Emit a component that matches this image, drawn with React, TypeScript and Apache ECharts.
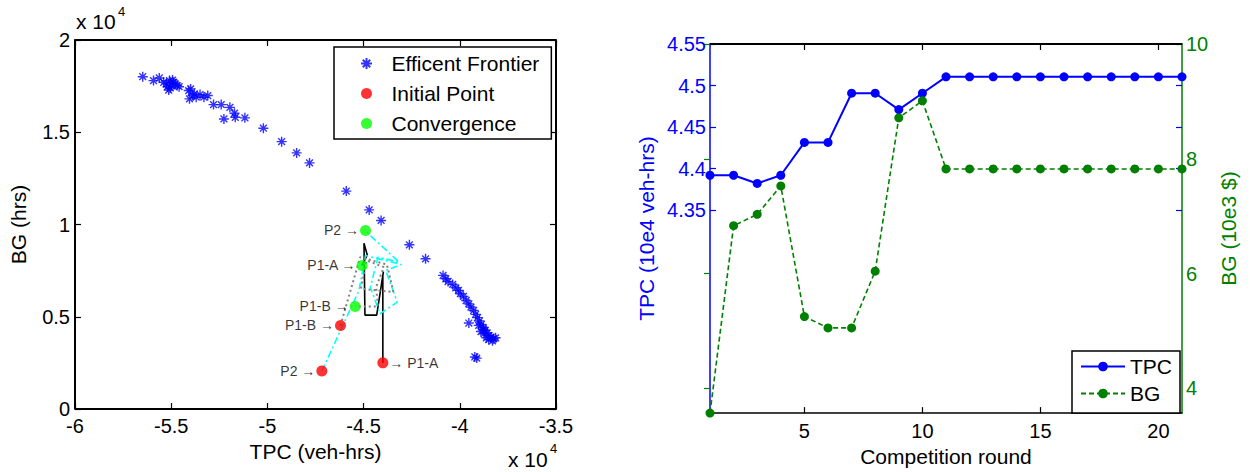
import React, { useEffect, useRef } from "react";
import * as echarts from "echarts";

const FONT = "Liberation Sans, Arial, Helvetica, sans-serif";
const BLUE = "#0000ff";
const GREEN = "#008000";

// Efficient frontier solutions: [TPC (veh-hrs), BG (hrs)]
const frontier: [number, number][] = [
  [-56480, 18010], [-55920, 17800], [-55620, 17940], [-55390, 17710], [-55250, 17620],
  [-55090, 17800], [-54990, 17530], [-54890, 17710], [-54790, 17620], [-54690, 17530],
  [-55130, 17290], [-55050, 17400], [-54930, 17830], [-55190, 17470], [-54590, 17470],
  [-54090, 17260], [-54050, 16810], [-53890, 16990], [-53700, 16900], [-53500, 17040],
  [-53300, 16900], [-53100, 16990], [-53990, 17350], [-53800, 17080],
  [-52800, 16500], [-52400, 16500], [-52260, 15720], [-51950, 16350], [-51710, 16030],
  [-51670, 15810], [-51170, 15780],
  [-50210, 15220], [-49260, 14490], [-48480, 13880], [-47810, 13340], [-45900, 11810],
  [-44710, 10790], [-44090, 10220], [-42620, 8900], [-41780, 8140],
  [-40870, 7240], [-40730, 7060], [-40610, 6910], [-40370, 6750], [-40210, 6570],
  [-40070, 6430], [-39970, 6250], [-39810, 6100], [-39670, 5880], [-39530, 5700],
  [-39420, 5520], [-39280, 5340], [-39180, 5130], [-39080, 4950], [-38980, 4770],
  [-38880, 4580], [-38780, 4400], [-38680, 4260], [-38580, 4120], [-38480, 3990],
  [-38380, 3900], [-38240, 3810], [-38620, 3860], [-38740, 4080], [-38140, 3860],
  [-38760, 4300], [-39020, 4530], [-38300, 3700], [-38500, 3760], [-38900, 4200],
  [-39530, 4660], [-39120, 2760], [-39220, 2820],
];

// Player trajectories across the competition rounds
const pathP1A: [number, number][] = [
  [-44000, 2500], [-44000, 7260], [-43970, 7440], [-44320, 5090], [-44930, 5090],
  [-44980, 8980], [-44810, 8350], [-45080, 7780],
];
const pathP2: [number, number][] = [
  [-47170, 2060], [-45240, 6430], [-44900, 8320], [-43050, 7830], [-43850, 7510],
  [-43250, 5790], [-44150, 5160], [-44650, 6610], [-44250, 8230], [-43150, 7960],
  [-44650, 9400], [-44900, 9680],
];
const pathP1B: [number, number][] = [
  [-46200, 4530], [-45180, 8230], [-43790, 7830], [-43450, 6340], [-45140, 6520],
  [-44840, 8050], [-43950, 7690], [-44350, 6610], [-44250, 5560], [-45440, 5560],
];

const pointNames = ["P2", "P1-B", "P1-A"];
const initialPoints: [number, number][] = [[-47170, 2060], [-46200, 4530], [-44000, 2500]];
const convergencePoints: [number, number][] = [[-44900, 9680], [-45440, 5560], [-45080, 7780]];

// Per-round results
const rounds = ["1", "2", "3", "4", "5", "6", "7", "8", "9", "10", "11", "12", "13", "14", "15", "16", "17", "18", "19", "20", "21"];
const tpcByRound = [4.39, 4.39, 4.38, 4.39, 4.43, 4.43, 4.49, 4.49, 4.47, 4.49, 4.51, 4.51, 4.51, 4.51, 4.51, 4.51, 4.51, 4.51, 4.51, 4.51, 4.51];
const bgByRound = [3.5, 6.8, 7.0, 7.5, 5.2, 5.0, 5.0, 6.0, 8.7, 9.0, 7.8, 7.8, 7.8, 7.8, 7.8, 7.8, 7.8, 7.8, 7.8, 7.8, 7.8];

// Axis extents and tick labels
const tpcRange = [-60000, -35000];
const bgRange = [0, 20000];
const tpcRoundRange = [4.1, 4.55];
const bgRoundRange = [3.5, 10];
const tpcTickLabels = [4.35, 4.4, 4.45, 4.5, 4.55];
const bgTickLabels = [4, 6, 8, 10];

const ASTERISK = "path://M5 0L5 10M0 5L10 5M1.6 1.6L8.4 8.4M8.4 1.6L1.6 8.4";

// Plot boxes (pixels)
const LEFT_BOX = { left: 75, top: 40, width: 481, height: 369 };
const RIGHT_BOX = { left: 710, top: 44, width: 472, height: 373 };

const scaled = (v: number) => String(Math.round((v / 1e4) * 100) / 100);
const round2 = (v: number) => String(Math.round(v * 100) / 100);
const everyFifth = (i: number) => (i + 1) % 5 === 0;

function buildOption() {
  const tickFont = { fontFamily: FONT, fontSize: 20, color: "#000" };
  const nameFont = { fontFamily: FONT, fontSize: 21, color: "#000" };
  const blackLine = () => ({ show: true, onZero: false, lineStyle: { color: "#000", width: 1.5 } });
  const inTick = (color: string) => ({ show: true, inside: true, length: 6, lineStyle: { color, width: 1.2 } });

  const labelSide: Record<string, "left" | "right"> = { P2: "left", "P1-B": "left", "P1-A": "right" };
  const pointItems = (pts: [number, number][], initial: boolean) =>
    pts.map((p, i) => {
      const n = pointNames[i];
      const side = initial ? labelSide[n] : "left";
      return {
        value: p,
        name: n,
        label: {
          show: true,
          position: side,
          distance: 1,
          formatter: side === "left" ? `${n} \u2192` : `\u2192 ${n}`,
          fontFamily: FONT,
          fontSize: 14,
          color: "#000",
        },
      };
    });

  // Box outline of the left plot, traced through its own axis extents
  const [x0, x1] = tpcRange;
  const [y0, y1] = bgRange;
  const leftFrame = [[x0, y0], [x0, y1], [x1, y1], [x1, y0], [x0, y0]];
  // Top edge of the right plot
  const rightTop = [[rounds[0], tpcRoundRange[1]], [rounds[rounds.length - 1], tpcRoundRange[1]]];

  return {
    animation: false,
    textStyle: { fontFamily: FONT },
    grid: [
      { ...LEFT_BOX },
      { ...RIGHT_BOX },
      { left: RIGHT_BOX.left, top: RIGHT_BOX.top, width: RIGHT_BOX.width, height: 166 },
      { left: RIGHT_BOX.left, top: RIGHT_BOX.top, width: RIGHT_BOX.width, height: 344.3 },
    ],
    xAxis: [
      {
        gridIndex: 0, type: "value", min: tpcRange[0], max: tpcRange[1], interval: 5000, position: "bottom",
        axisLine: blackLine(), axisTick: inTick("#000"),
        axisLabel: { ...tickFont, margin: 7, formatter: scaled },
        splitLine: { show: false },
        name: "TPC (veh-hrs)", nameLocation: "middle", nameGap: 31, nameTextStyle: nameFont,
      },
      {
        gridIndex: 0, type: "value", min: tpcRange[0], max: tpcRange[1], interval: 5000, position: "top",
        axisLine: blackLine(), axisTick: inTick("#000"), axisLabel: { show: false }, splitLine: { show: false },
      },
      {
        gridIndex: 1, type: "category", data: rounds, boundaryGap: false, position: "bottom",
        axisLine: blackLine(),
        axisTick: { ...inTick("#000"), interval: everyFifth },
        axisLabel: { ...tickFont, margin: 8, interval: everyFifth },
        splitLine: { show: false },
        name: "Competition round", nameLocation: "middle", nameGap: 31, nameTextStyle: nameFont,
      },
      {
        gridIndex: 1, type: "category", data: rounds, boundaryGap: false, position: "top",
        axisLine: blackLine(),
        axisTick: { ...inTick("#000"), interval: everyFifth },
        axisLabel: { show: false }, splitLine: { show: false },
      },
      { gridIndex: 2, type: "value", show: false, min: 0, max: 1 },
      { gridIndex: 3, type: "value", show: false, min: 0, max: 1 },
    ],
    yAxis: [
      {
        gridIndex: 0, type: "value", min: bgRange[0], max: bgRange[1], interval: 5000, position: "left",
        axisLine: blackLine(), axisTick: inTick("#000"),
        axisLabel: { ...tickFont, margin: 5, formatter: scaled },
        splitLine: { show: false },
        name: "BG (hrs)", nameLocation: "middle", nameGap: 46, nameRotate: 90, nameTextStyle: nameFont,
      },
      {
        gridIndex: 0, type: "value", min: bgRange[0], max: bgRange[1], interval: 5000, position: "right",
        axisLine: blackLine(), axisTick: inTick("#000"), axisLabel: { show: false }, splitLine: { show: false },
      },
      {
        gridIndex: 1, type: "value", min: tpcRoundRange[0], max: tpcRoundRange[1], position: "left",
        axisLine: { show: true, onZero: false, lineStyle: { color: BLUE, width: 1.5 } },
        axisTick: { show: false }, axisLabel: { show: false }, splitLine: { show: false },
        name: "TPC (10e4 veh-hrs)", nameLocation: "middle", nameGap: 53, nameRotate: 90,
        nameTextStyle: { ...nameFont, color: BLUE },
      },
      {
        gridIndex: 1, type: "value", min: bgRoundRange[0], max: bgRoundRange[1], position: "right",
        axisLine: { show: true, onZero: false, lineStyle: { color: GREEN, width: 1.5 } },
        axisTick: { show: false }, axisLabel: { show: false }, splitLine: { show: false },
        name: "BG (10e3 $)", nameLocation: "middle", nameGap: 36, nameRotate: 90,
        nameTextStyle: { ...nameFont, color: GREEN },
      },
      {
        gridIndex: 2, type: "value", min: tpcTickLabels[0], max: tpcTickLabels[tpcTickLabels.length - 1],
        interval: 0.05, position: "left",
        axisLine: { show: false }, axisTick: inTick(BLUE),
        axisLabel: { ...tickFont, color: BLUE, margin: 4, formatter: round2 },
        splitLine: { show: false },
      },
      {
        gridIndex: 2, type: "value", min: tpcTickLabels[0], max: tpcTickLabels[tpcTickLabels.length - 1],
        interval: 0.05, position: "right",
        axisLine: { show: false }, axisTick: inTick(BLUE), axisLabel: { show: false }, splitLine: { show: false },
      },
      {
        gridIndex: 3, type: "value", min: bgTickLabels[0], max: bgTickLabels[bgTickLabels.length - 1],
        interval: 2, position: "right",
        axisLine: { show: false }, axisTick: inTick(GREEN),
        axisLabel: { ...tickFont, color: GREEN, margin: 4, formatter: round2 },
        splitLine: { show: false },
      },
    ],
    legend: [
      {
        data: ["Efficent Frontier", "Initial Point", "Convergence"],
        orient: "vertical", left: 334, top: 47,
        itemWidth: 40, itemHeight: 11, itemGap: 9,
        padding: [6, 12, 5, 26],
        borderColor: "#000", borderWidth: 1.5, backgroundColor: "#fff",
        textStyle: { fontFamily: FONT, fontSize: 21, color: "#000" },
        selectedMode: false,
      },
      {
        data: ["TPC", "BG"],
        orient: "vertical", left: 1072, top: 351,
        itemWidth: 44, itemHeight: 12, itemGap: 6,
        padding: [5, 8, 9, 8],
        borderColor: "#000", borderWidth: 1.5, backgroundColor: "#fff",
        textStyle: { fontFamily: FONT, fontSize: 21, color: "#000" },
        selectedMode: false,
      },
    ],
    series: [
      {
        name: "frame-left", type: "line", xAxisIndex: 0, yAxisIndex: 0, data: leftFrame, clip: false,
        symbol: "none", silent: true, lineStyle: { color: "#000", width: 2 }, z: 6,
      },
      {
        name: "frame-right-top", type: "line", xAxisIndex: 2, yAxisIndex: 2, data: rightTop, clip: false,
        symbol: "none", silent: true, lineStyle: { color: "#000", width: 2 }, z: 6,
      },
      {
        name: "Efficent Frontier", type: "scatter", xAxisIndex: 0, yAxisIndex: 0, clip: false,
        data: frontier, symbol: ASTERISK, symbolSize: 10, symbolKeepAspect: true,
        itemStyle: { color: "rgba(0,0,0,0)", borderColor: BLUE, borderWidth: 1.4 },
        z: 3,
      },
      {
        name: "P1-A path", type: "line", xAxisIndex: 0, yAxisIndex: 0, data: pathP1A, clip: false,
        symbol: "none", lineStyle: { color: "#000", width: 1.6 }, z: 2,
      },
      {
        name: "P2 path", type: "line", xAxisIndex: 0, yAxisIndex: 0, data: pathP2, clip: false,
        symbol: "none", lineStyle: { color: "#00ffff", width: 1.6, type: [7, 3, 2, 3] }, z: 2,
      },
      {
        name: "P1-B path", type: "line", xAxisIndex: 0, yAxisIndex: 0, data: pathP1B, clip: false,
        symbol: "none", lineStyle: { color: "#808080", width: 2, type: [2, 3] }, z: 2,
      },
      {
        name: "Initial Point", type: "scatter", xAxisIndex: 0, yAxisIndex: 0, clip: false,
        data: pointItems(initialPoints, true), symbol: "circle", symbolSize: 11,
        itemStyle: { color: "#ff0000" }, z: 5,
      },
      {
        name: "Convergence", type: "scatter", xAxisIndex: 0, yAxisIndex: 0, clip: false,
        data: pointItems(convergencePoints, false), symbol: "circle", symbolSize: 11,
        itemStyle: { color: "#00ff00" }, z: 5,
      },
      {
        name: "TPC", type: "line", xAxisIndex: 2, yAxisIndex: 2, data: tpcByRound,
        symbol: "circle", symbolSize: 9, clip: false,
        itemStyle: { color: BLUE }, lineStyle: { color: BLUE, width: 2 }, z: 4,
      },
      {
        name: "BG", type: "line", xAxisIndex: 2, yAxisIndex: 3, data: bgByRound,
        symbol: "circle", symbolSize: 9, clip: false,
        itemStyle: { color: GREEN }, lineStyle: { color: GREEN, width: 1.6, type: [5, 3] }, z: 4,
      },
    ],
    graphic: [
      { type: "text", left: 76, top: 11, style: { text: "x 10", fontFamily: FONT, fontSize: 21, fill: "#000" } },
      { type: "text", left: 118, top: 5, style: { text: "4", fontFamily: FONT, fontSize: 13, fill: "#000" } },
      { type: "text", left: 508, top: 449, style: { text: "x 10", fontFamily: FONT, fontSize: 21, fill: "#000" } },
      { type: "text", left: 550, top: 442, style: { text: "4", fontFamily: FONT, fontSize: 13, fill: "#000" } },
    ],
  };
}

export default function App() {
  const ref = useRef<HTMLDivElement>(null);
  useEffect(() => {
    if (!ref.current) return;
    const chart = echarts.init(ref.current, undefined, { renderer: "svg" });
    chart.setOption(buildOption() as any);
    return () => chart.dispose();
  }, []);
  return (
    <div
      ref={ref}
      style={{ position: "absolute", left: 0, top: 0, width: 1250, height: 472, background: "#fff" }}
    />
  );
}
